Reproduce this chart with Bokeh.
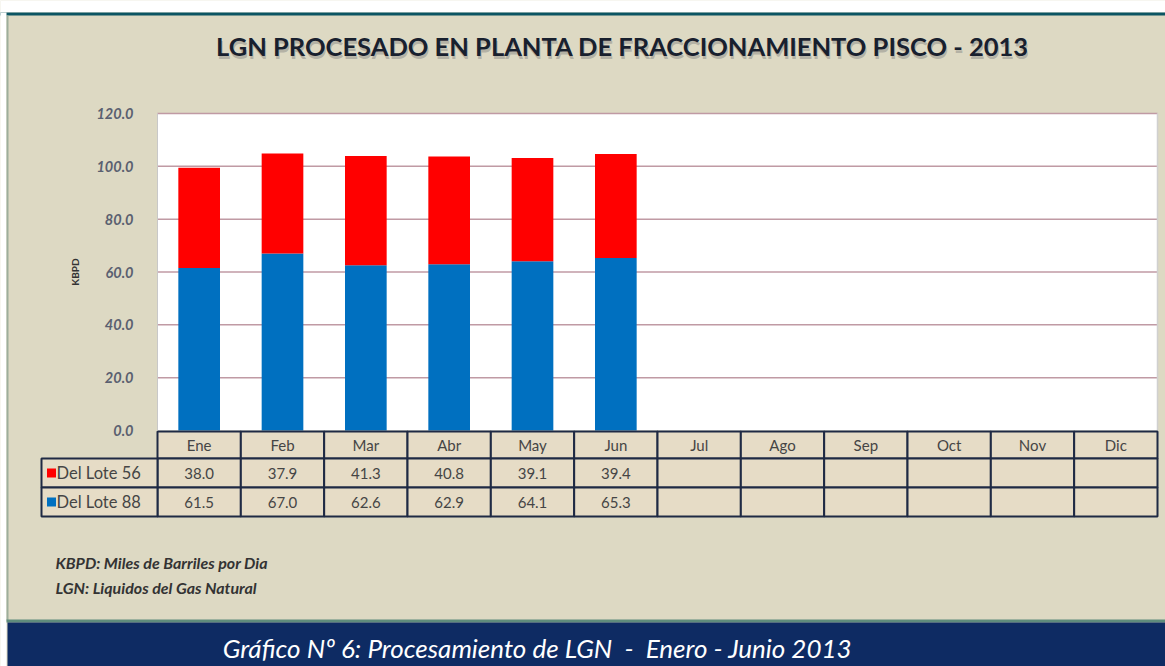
from bokeh.plotting import figure
from bokeh.models import ColumnDataSource, Range1d, FixedTicker, NumeralTickFormatter
from bokeh.core.properties import value
from bokeh.embed import file_html
from bokeh.resources import INLINE

# ---------------- data ----------------
months = ["Ene", "Feb", "Mar", "Abr", "May", "Jun", "Jul", "Ago", "Sep", "Oct", "Nov", "Dic"]
lote56 = [38.0, 37.9, 41.3, 40.8, 39.1, 39.4]
lote88 = [61.5, 67.0, 62.6, 62.9, 64.1, 65.3]
series_names = ["Del Lote 56", "Del Lote 88"]
y_ticks = [0, 20, 40, 60, 80, 100, 120]
title_text = "LGN PROCESADO EN PLANTA DE FRACCIONAMIENTO PISCO - 2013"
y_label = "KBPD"
notes = ["KBPD: Miles de Barriles por Dia", "LGN: Liquidos del Gas Natural"]
caption = "Gráfico Nº 6: Procesamiento de LGN \u00a0-\u00a0 Enero - Junio 2013"

# ---------------- style ----------------
BG = "#DDD9C3"
CELL = "#E6DCC6"
RED = "#FF0000"
BLUE = "#0070C0"
NAVY = "#0E2B63"
GRID = "#C09AA4"
BORDER = "#1F2A44"
TXT = "#454545"
FONT = "Lato"

W, H = 1165, 666
PLOT_L, PLOT_R = 157, 1157      # plot area, canvas px
PLOT_T, PLOT_B = 113, 430
NCAT = len(months)
CW = (PLOT_R - PLOT_L) / NCAT
YMAX = y_ticks[-1]
K = (PLOT_B - PLOT_T) / YMAX


def X(px):   # canvas x (px) -> data x
    return (px - PLOT_L) / CW


def Y(py):   # canvas y (px, from top) -> data y
    return (PLOT_B - py) / K


p = figure(x_range=Range1d(X(0), X(W)), y_range=Range1d(Y(H), Y(0)),
           width=W, height=H, output_backend="svg", toolbar_location=None,
           min_border=0, background_fill_color=BG, border_fill_color=BG,
           outline_line_color=None)
p.title.visible = False
p.xaxis.visible = False
p.grid.visible = False

# ---------------- page chrome ----------------
p.quad(left=X(-5), right=X(W + 5), top=Y(-5), bottom=Y(12), fill_color="white", line_color=None)
p.quad(left=X(-5), right=X(W + 5), top=Y(12), bottom=Y(15), fill_color="#0B5563", line_color=None)
p.quad(left=X(-5), right=X(6), top=Y(12), bottom=Y(H + 5), fill_color="white", line_color=None)
p.quad(left=X(6), right=X(8), top=Y(15), bottom=Y(620), fill_color="#9DAE9B", line_color=None)

# title with soft shadow
p.text(x=[X(623)], y=[Y(48)], text=[title_text], text_font=value(FONT), text_font_style="bold",
       text_font_size="25.5px", text_color="#808080", text_alpha=0.45,
       text_align="center", text_baseline="middle")
p.text(x=[X(622)], y=[Y(45)], text=[title_text], text_font=value(FONT), text_font_style="bold",
       text_font_size="25.5px", text_color="#18202E",
       text_align="center", text_baseline="middle")

# ---------------- plot area ----------------
p.quad(left=0, right=NCAT, bottom=0, top=YMAX, fill_color="white", line_color=None)
p.segment(x0=[0] * (len(y_ticks) - 1), x1=[NCAT] * (len(y_ticks) - 1),
          y0=y_ticks[1:], y1=y_ticks[1:], line_color=GRID, line_width=1.5)
p.segment(x0=[NCAT], x1=[NCAT], y0=[0], y1=[YMAX], line_color="#D0D0D0", line_width=1.5)

xs = [i + 0.5 for i in range(len(lote88))]
src = ColumnDataSource(dict(x=xs, l88=lote88, l56=lote56))
p.vbar_stack(["l88", "l56"], x="x", width=0.5, color=[BLUE, RED], line_color=None, source=src)

ax = p.yaxis[0]
ax.fixed_location = 0
ax.bounds = (0, YMAX)
ax.ticker = FixedTicker(ticks=y_ticks)
ax.formatter = NumeralTickFormatter(format="0.0")
ax.major_label_text_font = FONT
ax.major_label_text_font_style = "bold italic"
ax.major_label_text_font_size = "14.5px"
ax.major_label_text_color = "#5A6070"
ax.major_label_standoff = 18
ax.major_tick_line_color = None
ax.minor_tick_line_color = None
ax.axis_line_color = "#C8C8C8"
ax.axis_label = y_label
ax.axis_label_text_font = FONT
ax.axis_label_text_font_size = "10px"
ax.axis_label_text_font_style = "bold"
ax.axis_label_text_color = "#333333"
ax.axis_label_standoff = 12

# ---------------- data table ----------------
r_hdr = (Y(431), Y(458))
r_1 = (Y(458), Y(487))
r_2 = (Y(487), Y(516))
cl, cr, ct, cb = [], [], [], []
for i in range(NCAT):
    for (t, b) in (r_hdr, r_1, r_2):
        cl.append(i); cr.append(i + 1); ct.append(t); cb.append(b)
for (t, b) in (r_1, r_2):
    cl.append(X(41)); cr.append(0); ct.append(t); cb.append(b)
p.quad(left=cl, right=cr, top=ct, bottom=cb, fill_color=CELL, line_color=BORDER, line_width=2)

xc = [i + 0.5 for i in range(NCAT)]
p.text(x=xc, y=[(r_hdr[0] + r_hdr[1]) / 2] * NCAT, text=months, text_font=value(FONT),
       text_font_size="15px", text_color=TXT, text_align="center", text_baseline="middle")

for (vals, col, row), name in zip([(lote56, RED, r_1), (lote88, BLUE, r_2)], series_names):
    ym = (row[0] + row[1]) / 2
    p.text(x=xc[:len(vals)], y=[ym] * len(vals), text=[f"{v:.1f}" for v in vals],
           text_font=value(FONT), text_font_size="15px", text_color=TXT,
           text_align="center", text_baseline="middle")
    p.rect(x=[X(51)], y=[ym], width=9, height=9, width_units="screen", height_units="screen",
           fill_color=col, line_color=None)
    p.text(x=[X(56)], y=[ym], text=[name], text_font=value(FONT), text_font_size="16.5px",
           text_color=TXT, text_align="left", text_baseline="middle")

# ---------------- notes & footer ----------------
p.text(x=[X(55)] * len(notes), y=[Y(562 + 25 * k) for k in range(len(notes))], text=notes,
       text_font=value(FONT), text_font_style="bold italic", text_font_size="16px",
       text_color="#333333", text_align="left", text_baseline="middle")

p.quad(left=X(6), right=X(W + 5), top=Y(619), bottom=Y(622), fill_color="#5E8C7C", line_color=None)
p.quad(left=X(7), right=X(W + 5), top=Y(622), bottom=Y(H + 5), fill_color=NAVY, line_color=None)
p.text(x=[X(537)], y=[Y(647)], text=[caption], text_font=value(FONT), text_font_style="italic",
       text_font_size="26px", text_color="white", text_align="center", text_baseline="middle")

open("out.html", "w").write(file_html(p, INLINE))
